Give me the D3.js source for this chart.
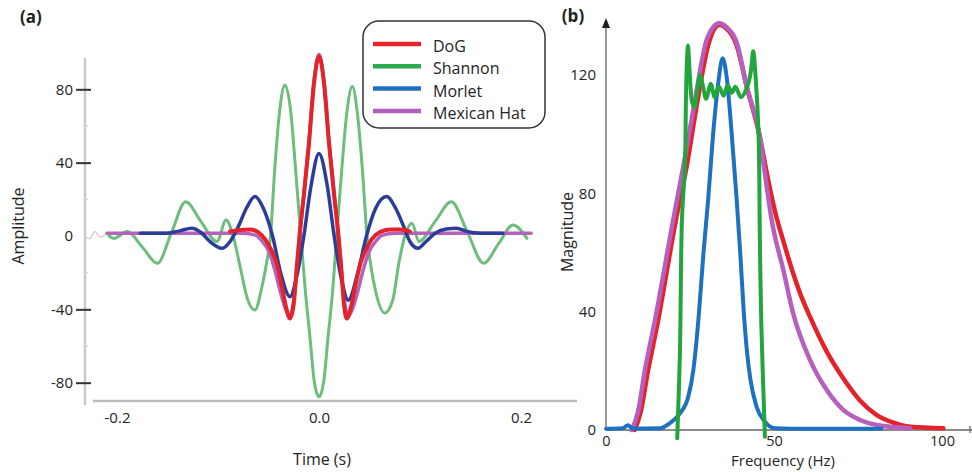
<!DOCTYPE html>
<html><head><meta charset="utf-8">
<script src="https://cdn.jsdelivr.net/npm/d3@7"></script>
<style>
body{margin:0;background:#fff;}
svg{display:block;font-family:"Open Sans",sans-serif;}
</style>
</head><body>
<svg id="chart" width="972" height="472"></svg>
<script>
// ---------- data ----------
const seriesNames = ["DoG", "Shannon", "Morlet", "Mexican Hat"];
const timeTicks = [-0.2, 0, 0.2];
const ampTicks = [80, 40, 0, -40, -80];
const ampMinorTicks = [60, 20, -20, -60];
const freqTicks = [0, 50, 100];
const magTicks = [0, 40, 80, 120];

// panel (a): [time (s), amplitude]
const dogWave = [[-0.088,2.5],[-0.078,3.3],[-0.068,3.5],[-0.06,2],[-0.053,-2],[-0.047,-8],[-0.042,-15],[-0.037,-27],[-0.033,-38],[-0.0287,-45],[-0.025,-37],[-0.022,-17],[-0.019,2],[-0.015,22],[-0.01,50],[-0.005,83],[0,98],[0.005,83],[0.01,50],[0.015,22],[0.019,2],[0.022,-17],[0.0245,-36],[0.0275,-45],[0.032,-38],[0.036,-27],[0.041,-15],[0.046,-8],[0.052,-2],[0.06,2],[0.07,3.5],[0.08,3.5],[0.09,2.5]];
const shannonWave = [[-0.208,0],[-0.203,-1.3],[-0.19,2.4],[-0.175,-6],[-0.16,-14.9],[-0.146,2],[-0.132,18.7],[-0.117,8],[-0.101,-3],[-0.092,8.7],[-0.085,0],[-0.078,-17],[-0.071,-34],[-0.0634,-40.4],[-0.057,-29],[-0.052,-15],[-0.048,0],[-0.044,35],[-0.039,68],[-0.0337,82.4],[-0.028,68],[-0.023,35],[-0.018,0],[-0.0135,-30],[-0.009,-55],[-0.0045,-80],[0,-87.7],[0.0045,-80],[0.009,-55],[0.0135,-30],[0.0175,0],[0.0225,36],[0.0275,67],[0.033,81.5],[0.038,67],[0.043,36],[0.0475,0],[0.051,-15],[0.056,-30],[0.065,-42],[0.073,-35],[0.079,-15],[0.085,0],[0.092,7],[0.099,-3],[0.115,8],[0.131,18.7],[0.147,2],[0.163,-14.9],[0.178,-4],[0.192,6],[0.206,-1.3]];
const morletWave = [[-0.177,1.5],[-0.15,1.5],[-0.138,2.8],[-0.126,4.2],[-0.116,1.5],[-0.108,-3],[-0.096,-6.7],[-0.088,-3],[-0.08,5],[-0.072,15],[-0.0634,21.5],[-0.055,15],[-0.046,0],[-0.038,-20],[-0.0287,-33.1],[-0.022,-22],[-0.015,0],[-0.008,27],[0,45],[0.008,28],[0.015,0],[0.022,-23],[0.029,-35],[0.038,-21],[0.047,0],[0.056,15],[0.067,21.5],[0.076,15],[0.084,5],[0.09,-3],[0.098,-6.7],[0.106,-3],[0.115,1.5],[0.126,3.8],[0.136,4.2],[0.146,2.5],[0.16,1.5],[0.182,1.5]];
const mexicanHatWave = [[-0.21,1.5],[-0.075,1.5],[-0.063,0.5],[-0.056,-3],[-0.05,-8],[-0.044,-18],[-0.038,-31],[-0.033,-40],[-0.029,-43.5],[-0.025,-35],[-0.022,-18],[-0.019,1],[-0.015,23],[-0.01,51],[-0.005,84],[0,99],[0.005,84],[0.01,51],[0.015,23],[0.019,1],[0.022,-18],[0.025,-35],[0.029,-43.5],[0.033,-40],[0.038,-31],[0.044,-18],[0.05,-8],[0.056,-3],[0.063,0.5],[0.075,1.5],[0.21,1.5]];
const faintTail = [[-0.232,0],[-0.227,-1.5],[-0.222,2.5],[-0.217,-0.5],[-0.212,0.5]];

// panel (b): [frequency (Hz), magnitude]
const dogSpectrum = [[8.5,0],[10.3,6],[12.5,20],[15.5,37],[20.8,71],[24,89],[27.2,111],[30.4,130],[32.2,135.5],[33.8,137],[35.5,136],[38.9,130],[41.9,116],[45.8,99],[48,86],[50.5,73],[53,63],[55.7,53],[58,45.5],[60.7,38.3],[65.7,26.5],[70.6,17.5],[75.6,10],[80.6,5],[85.5,2.5],[90.5,1.1],[100.4,0.6]];
const shannonSpectrum = [[21.2,-2.8],[22,26],[22.6,71],[23.5,90],[23.8,112],[24.1,125],[24.4,130],[24.9,121],[25.6,111],[26.3,109],[27.2,115],[28,120],[28.9,116],[29.8,112],[31.2,117],[32.3,112.5],[33.6,116],[35,113],[36.2,116.5],[37.4,114],[38.5,116],[40.2,112.5],[42.2,116.5],[43.2,122],[43.8,128],[44.6,118],[45.4,100],[45.8,64],[46.2,37],[47.3,-2.3]];
const morletSpectrum = [[0,0.4],[5,0.6],[6.5,1.6],[8,0.5],[16.1,0.6],[19,2.3],[22,5.6],[24.5,11.3],[26,20.3],[27.5,37.2],[29,59.7],[30.4,77.8],[31.9,100.3],[33.4,117.2],[34.7,125.7],[35.9,119.4],[37.4,100.3],[38.9,77.8],[40,59],[41,40],[42,26],[43,17],[44.8,7.9],[47.3,2.8],[50.3,0.6],[60,0.4],[82,0.4]];
const mexicanHatSpectrum = [[7.6,0],[9.5,6],[11.6,20.3],[14.6,37.2],[20,71],[23,89],[26.5,111.6],[30,132],[33.7,137.5],[36,136],[38.9,131],[41.9,116],[45.8,99],[47.5,85],[49.3,71],[52.8,54],[55.7,39.4],[60.7,23.7],[65.7,13.5],[70.6,6.8],[75.6,3.4],[80.6,1.7],[90.5,0.6]];

// ---------- drawing ----------
const svg = d3.select("#chart");
const textColor = "#242424";

// panel (a) scales
const xA = d3.scaleLinear().domain([-0.2, 0.2]).range([117, 521]);
const yA = d3.scaleLinear().domain([-80, 80]).range([382.7, 89.3]);
// panel (b) scales
const xB = d3.scaleLinear().domain([0, 100]).range([606, 942]);
const yB = d3.scaleLinear().domain([0, 120]).range([430, 75]);

// --- panel (a) axes ---
svg.append("line").attr("x1", 85).attr("x2", 85).attr("y1", 58).attr("y2", 405)
  .attr("stroke", "#c9c9c9").attr("stroke-width", 2.5);
svg.append("line").attr("x1", 93).attr("x2", 577).attr("y1", 401).attr("y2", 401)
  .attr("stroke", "#bdbdbd").attr("stroke-width", 2.5);
svg.append("g").selectAll("line").data(ampMinorTicks).join("line")
  .attr("x1", 83).attr("x2", 88).attr("y1", d => yA(d)).attr("y2", d => yA(d))
  .attr("stroke", "#d6d6d6").attr("stroke-width", 1.5);

const yAxisA = svg.append("g").attr("transform", "translate(91,0)")
  .call(d3.axisLeft(yA).tickValues(ampTicks).tickSize(15).tickPadding(3).tickFormat(d => String(d)));
yAxisA.select(".domain").remove();
yAxisA.selectAll(".tick line").attr("stroke", "#333").attr("stroke-width", 2)
  .attr("opacity", d => d === 0 ? 0 : 1);
yAxisA.selectAll(".tick text").attr("font-size", 15).attr("fill", textColor)
  .attr("font-family", "Open Sans, sans-serif");

const xAxisA = svg.append("g").attr("transform", "translate(0,401)")
  .call(d3.axisBottom(xA).tickValues(timeTicks).tickSize(0).tickPadding(11).tickFormat(d => d.toFixed(1)));
xAxisA.select(".domain").remove();
xAxisA.selectAll(".tick text").attr("font-size", 15).attr("fill", textColor)
  .attr("font-family", "Open Sans, sans-serif");

svg.append("text").attr("transform", "translate(24,226) rotate(-90)")
  .attr("text-anchor", "middle").attr("font-size", 16).attr("fill", textColor).text("Amplitude");
svg.append("text").attr("x", 322).attr("y", 465)
  .attr("text-anchor", "middle").attr("font-size", 16).attr("fill", textColor).text("Time (s)");
svg.append("text").attr("x", 31).attr("y", 23)
  .attr("text-anchor", "middle").attr("font-size", 17).attr("font-weight", "bold").attr("fill", "#222").text("(a)");

// --- panel (a) curves ---
const lineA = d3.line().x(d => xA(d[0])).y(d => yA(d[1])).curve(d3.curveMonotoneX);
const gA = svg.append("g").attr("fill", "none").attr("stroke-linejoin", "round").attr("stroke-linecap", "round");
gA.append("path").attr("d", lineA(faintTail)).attr("stroke", "#d2d2d2").attr("stroke-width", 1.5);
gA.append("path").attr("d", lineA(shannonWave)).attr("stroke", "#6dbd7c").attr("stroke-width", 3);
gA.append("path").attr("d", lineA(mexicanHatWave)).attr("stroke", "#b463b8").attr("stroke-width", 3.5);
gA.append("path").attr("d", lineA(morletWave)).attr("stroke", "#2c3d99").attr("stroke-width", 3.5);
gA.append("path").attr("d", lineA(dogWave)).attr("stroke", "#e3232a").attr("stroke-width", 4);

// --- legend ---
const legendColors = ["#e8252b", "#2aab4e", "#1f6fc0", "#b25db8"];
svg.append("rect").attr("x", 363).attr("y", 21).attr("width", 182).attr("height", 107)
  .attr("rx", 16).attr("fill", "#fff").attr("stroke", "#333").attr("stroke-width", 1.5);
const leg = svg.append("g").selectAll("g").data(seriesNames).join("g")
  .attr("transform", (d, i) => `translate(0,${44 + i * 22.3})`);
leg.append("line").attr("x1", 373).attr("x2", 421).attr("y1", 0).attr("y2", 0)
  .attr("stroke", (d, i) => legendColors[i]).attr("stroke-width", 4.5);
leg.append("text").attr("x", 433).attr("y", 2).attr("dominant-baseline", "central")
  .attr("font-size", 16).attr("fill", textColor).text(d => d);

// --- panel (b) axes ---
svg.append("line").attr("x1", 606).attr("x2", 606).attr("y1", 26).attr("y2", 430)
  .attr("stroke", "#666").attr("stroke-width", 1.3);
svg.append("path").attr("d", "M606,18 L602,28 L610,28 Z").attr("fill", "#222");
svg.append("line").attr("x1", 606).attr("x2", 972).attr("y1", 430).attr("y2", 430)
  .attr("stroke", "#666").attr("stroke-width", 1.3);
svg.append("line").attr("x1", 970).attr("x2", 970).attr("y1", 426).attr("y2", 433)
  .attr("stroke", "#666").attr("stroke-width", 1.3);

const yAxisB = svg.append("g").attr("transform", "translate(606,0)")
  .call(d3.axisLeft(yB).tickValues(magTicks).tickSize(0).tickPadding(10));
yAxisB.select(".domain").remove();
yAxisB.selectAll(".tick text").attr("font-size", 15).attr("fill", textColor)
  .attr("font-family", "Open Sans, sans-serif");

const xAxisB = svg.append("g").attr("transform", "translate(0,430)")
  .call(d3.axisBottom(xB).tickValues(freqTicks).tickSize(0).tickPadding(6));
xAxisB.select(".domain").remove();
xAxisB.selectAll(".tick text").attr("font-size", 14.5).attr("fill", textColor)
  .attr("font-family", "Open Sans, sans-serif");

svg.append("text").attr("transform", "translate(573,232) rotate(-90)")
  .attr("text-anchor", "middle").attr("font-size", 16).attr("fill", textColor).text("Magnitude");
svg.append("text").attr("x", 783).attr("y", 466)
  .attr("text-anchor", "middle").attr("font-size", 15).attr("fill", textColor).text("Frequency (Hz)");
svg.append("text").attr("x", 573).attr("y", 22)
  .attr("text-anchor", "middle").attr("font-size", 17).attr("font-weight", "bold").attr("fill", "#222").text("(b)");

// --- panel (b) curves ---
const lineB = d3.line().x(d => xB(d[0])).y(d => yB(d[1])).curve(d3.curveMonotoneX);
const lineBg = d3.line().x(d => xB(d[0])).y(d => yB(d[1])).curve(d3.curveCatmullRom.alpha(0.5));
const gB = svg.append("g").attr("fill", "none").attr("stroke-linejoin", "round").attr("stroke-linecap", "round");
gB.append("path").attr("d", lineB(dogSpectrum)).attr("stroke", "#e4222a").attr("stroke-width", 4.5);
gB.append("path").attr("d", lineB(mexicanHatSpectrum)).attr("stroke", "#b65fbd").attr("stroke-width", 4.5);
gB.append("path").attr("d", lineB(morletSpectrum)).attr("stroke", "#1e70c0").attr("stroke-width", 4);
gB.append("path").attr("d", lineBg(shannonSpectrum)).attr("stroke", "#23a53e").attr("stroke-width", 4);
</script>
</body></html>
